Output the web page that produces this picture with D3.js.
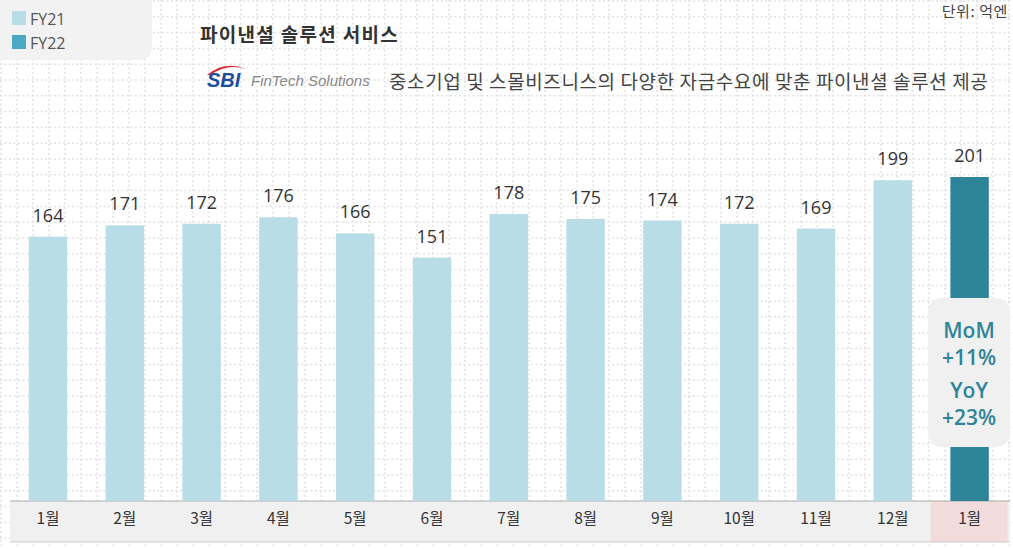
<!DOCTYPE html>
<html>
<head>
<meta charset="utf-8">
<script src="https://cdn.jsdelivr.net/npm/d3@7"></script>
<style>
  body { margin: 0; background: #fff; }
  svg { display: block; font-family: "Noto Sans CJK KR", "Noto Sans", sans-serif; }
</style>
</head>
<body>
<script>
// data
const months = ["1월", "2월", "3월", "4월", "5월", "6월", "7월", "8월", "9월", "10월", "11월", "12월", "1월 "]
const values = [164, 171, 172, 176, 166, 151, 178, 175, 174, 172, 169, 199, 201]
const series = ["FY21", "FY21", "FY21", "FY21", "FY21", "FY21", "FY21", "FY21", "FY21", "FY21", "FY21", "FY21", "FY22"]
const legendNames = ["FY21", "FY22"]
const badgeLines = ["MoM", "+11%", "YoY", "+23%"]

const width = 1013, height = 549
const margin = {top: 177, right: 5, bottom: 48, left: 9.6}
const colors = {FY21: "#b8dde7", FY22: "#2e8499"}
const legendColors = {FY21: "#b8dde7", FY22: "#4aaac4"}

const x = d3.scaleBand()
    .domain(months)
    .range([margin.left, width - margin.right])
    .paddingInner(0.5)
    .paddingOuter(0.25)

const y = d3.scaleLinear()
    .domain([0, d3.max(values)])
    .range([height - margin.bottom, margin.top])

const data = months.map((m, i) => ({name: m, value: values[i], series: series[i]}))

const svg = d3.select("body").append("svg")
    .attr("width", width)
    .attr("height", height)

// dotted background grid
const grid = svg.append("g").attr("stroke", "#e2e2e2").attr("stroke-width", 1.5).attr("stroke-dasharray", "2,2.5")
grid.selectAll(".v").data(d3.range(1, width, 16)).join("line")
    .attr("x1", d => d).attr("x2", d => d).attr("y1", 0).attr("y2", height)
grid.selectAll(".h").data(d3.range(1, height, 15.8)).join("line")
    .attr("y1", d => d).attr("y2", d => d).attr("x1", 0).attr("x2", width)

// legend
svg.append("rect").attr("x", -12).attr("y", -12).attr("width", 164).attr("height", 72)
    .attr("rx", 12).attr("fill", "#f2f2f2")
const lg = svg.append("g").selectAll("g").data(legendNames).join("g")
    .attr("transform", (d, i) => `translate(12,${11 + i * 24})`)
lg.append("rect").attr("width", 14).attr("height", 14).attr("fill", d => legendColors[d])
lg.append("text").attr("x", 18).attr("y", 13.5).attr("font-size", 16).attr("fill", "#555")
    .attr("font-family", "Open Sans, sans-serif").text(d => d)

// titles
svg.append("text").attr("x", 200).attr("y", 42).attr("font-size", 19).attr("font-weight", "bold")
    .attr("letter-spacing", 1.3).attr("fill", "#333").text("파이낸셜 솔루션 서비스")
svg.append("text").attr("x", 1008).attr("y", 17).attr("text-anchor", "end").attr("font-size", 15)
    .attr("letter-spacing", 0.6).attr("fill", "#444").text("단위: 억엔")

// SBI logo
svg.append("path").attr("d", "M207,75 Q225,60 246,69 Q226,63 211,75 Z").attr("fill", "#d7262e")
svg.append("text").attr("x", 207).attr("y", 87).attr("font-size", 20).attr("font-weight", "bold")
    .attr("font-style", "italic").attr("font-family", "Liberation Sans, Arial, sans-serif")
    .attr("fill", "#1d4e9e").text("SBI")
svg.append("text").attr("x", 251).attr("y", 86).attr("font-size", 15).attr("font-style", "italic")
    .attr("font-family", "Liberation Sans, Arial, sans-serif").attr("fill", "#888").text("FinTech Solutions")
svg.append("text").attr("x", 389).attr("y", 89).attr("font-size", 19).attr("fill", "#444")
    .attr("letter-spacing", 0.6).text("중소기업 및 스몰비즈니스의 다양한 자금수요에 맞춘 파이낸셜 솔루션 제공")

// x axis band
const base = y(0)
svg.append("rect").attr("x", 10).attr("y", base).attr("width", width - 13).attr("height", 41).attr("fill", "#f0f0f0")
svg.append("rect").attr("x", x(months[12]) - x.step() * 0.5 + x.bandwidth() / 2 - 0.5).attr("y", base)
    .attr("width", x.step()).attr("height", 41).attr("fill", "#f2dcdc")
svg.append("line").attr("x1", 10).attr("x2", width - 3).attr("y1", base).attr("y2", base).attr("stroke", "#aaa")
svg.append("line").attr("x1", 10).attr("x2", width - 3).attr("y1", base + 41).attr("y2", base + 41).attr("stroke", "#ccc")

const xAxis = g => g
    .attr("transform", `translate(0,${base})`)
    .call(d3.axisBottom(x).tickSize(0).tickPadding(12))
    .call(g => g.select(".domain").remove())
    .call(g => g.selectAll("text").attr("font-size", 15.5).attr("fill", "#333")
        .attr("font-family", "Noto Sans CJK KR, sans-serif").text(d => d.trim()))
svg.append("g").call(xAxis)

// bars
svg.append("g").selectAll("rect").data(data).join("rect")
    .attr("x", d => x(d.name))
    .attr("y", d => y(d.value))
    .attr("width", x.bandwidth())
    .attr("height", d => base - y(d.value))
    .attr("fill", d => colors[d.series])

svg.append("g").selectAll("text").data(data).join("text")
    .attr("x", d => x(d.name) + x.bandwidth() / 2)
    .attr("y", d => y(d.value) - 15)
    .attr("text-anchor", "middle")
    .attr("font-size", 18)
    .attr("font-family", "Open Sans, sans-serif")
    .attr("fill", "#333")
    .text(d => d.value)

// MoM / YoY badge
svg.append("rect").attr("x", 928).attr("y", 298).attr("width", 82).attr("height", 149)
    .attr("rx", 14).attr("fill", "#f0f0f0")
svg.append("g").selectAll("text").data(badgeLines).join("text")
    .attr("x", 969).attr("y", (d, i) => [338, 365, 398, 425][i])
    .attr("text-anchor", "middle").attr("font-size", 21).attr("font-weight", 600)
    .attr("font-family", "Open Sans, sans-serif").attr("fill", "#2e8499")
    .text(d => d)
</script>
</body>
</html>
